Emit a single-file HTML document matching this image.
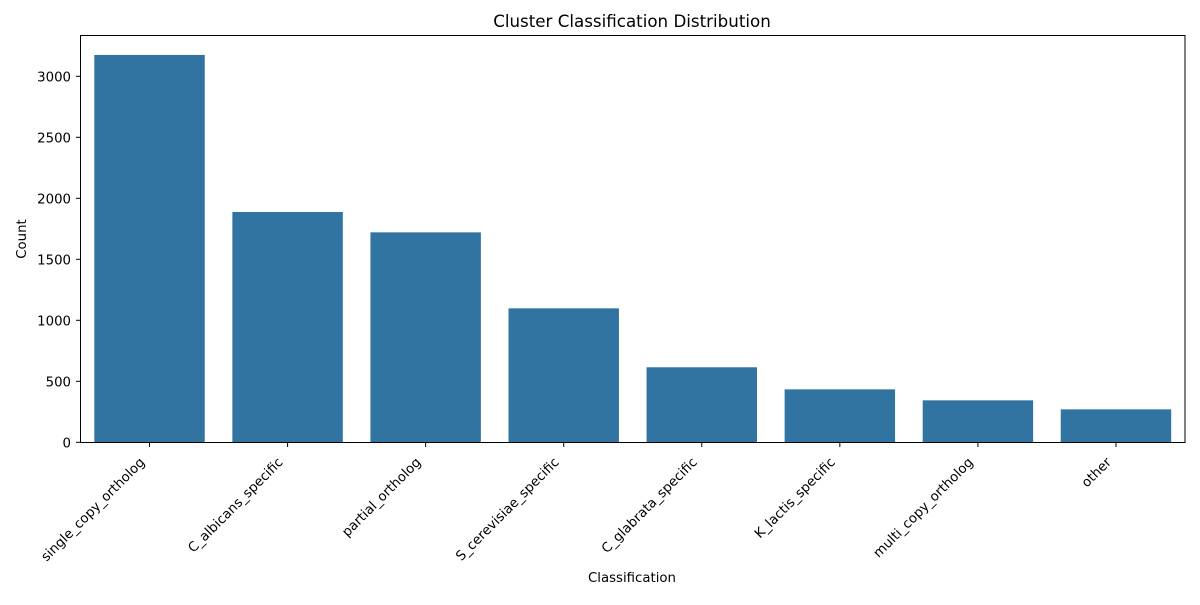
<!DOCTYPE html>
<html><head><meta charset="utf-8"><style>
body{margin:0;background:#fff;}
svg text{font-family:"DejaVu Sans","Liberation Sans",sans-serif;fill:#000;}
</style></head><body>
<svg id="chart" width="1200" height="600">
<text x="632" y="27" font-size="16.7" text-anchor="middle">Cluster Classification Distribution</text>
<g id="bars"></g><g id="ticks"></g>
<rect x="80.5" y="35.5" width="1104.5" height="407" fill="none" stroke="#000" stroke-width="1"/>
<text x="632" y="582" font-size="13.3" text-anchor="middle">Classification</text>
<text transform="translate(26,239) rotate(-90)" font-size="13.3" text-anchor="middle">Count</text>
</svg>
<script>
const categories=["single_copy_ortholog","C_albicans_specific","partial_ortholog","S_cerevisiae_specific","C_glabrata_specific","K_lactis_specific","multi_copy_ortholog","other"];
const counts=[3175,1888,1721,1098,615,434,344,270];
const yTicks=[0,500,1000,1500,2000,2500,3000];
const L=80.5,R=1185,Y0=442.3,K=0.122;
const band=(R-L)/categories.length;
const x=i=>L+band*i;
const y=v=>Y0-v*K;
const NS="http://www.w3.org/2000/svg";
const bars=document.getElementById('bars'),ticks=document.getElementById('ticks');
function mk(t,a,p){const e=document.createElementNS(NS,t);for(const k in a)e.setAttribute(k,a[k]);p.appendChild(e);return e;}
categories.forEach((c,i)=>{
 const r=mk('rect',{x:x(i)+band*0.1,y:y(counts[i]),width:band*0.8,height:Y0-y(counts[i]),fill:'#3274a1'},bars);
 
 
 const cx=x(i)+band/2;
 mk('line',{x1:cx,x2:cx,y1:442.5,y2:447,stroke:'#000'},ticks);
 const t=mk('text',{x:0,y:0,'font-size':13.3,'text-anchor':'end',transform:`translate(${cx-4},${463}) rotate(-45)`},ticks);
 t.textContent=c;
 
 
});
yTicks.forEach(v=>{
 mk('line',{x1:76,x2:80.5,y1:y(v),y2:y(v),stroke:'#000'},ticks);
 const t=mk('text',{x:71,y:y(v)+5,'font-size':13.3,'text-anchor':'end'},ticks);
 t.textContent=v;
 
 
});
</script>
</body></html>
